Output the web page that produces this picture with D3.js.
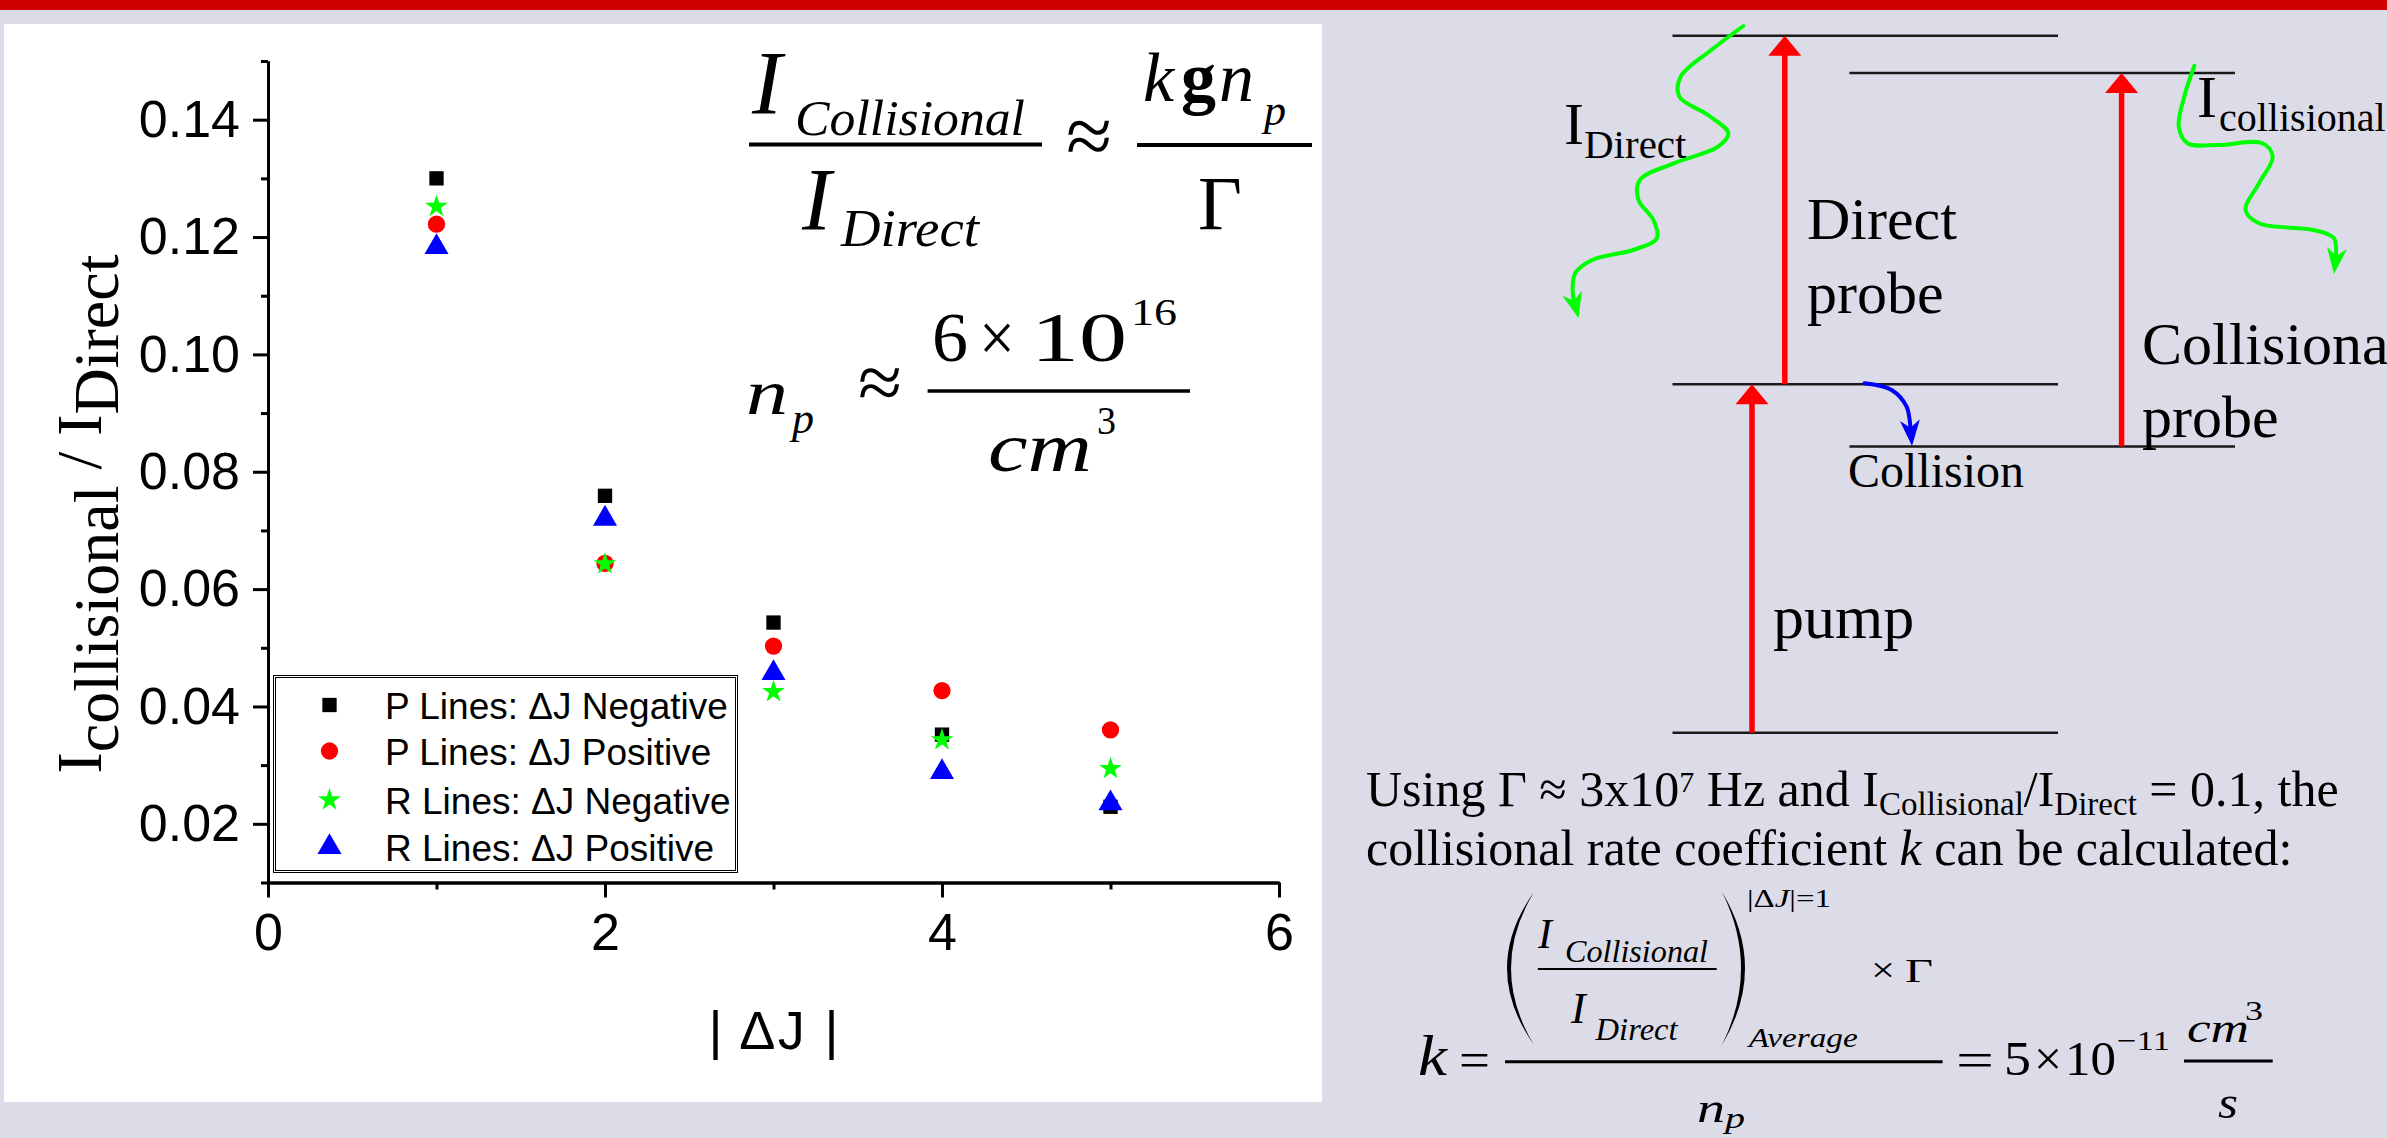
<!DOCTYPE html>
<html>
<head>
<meta charset="utf-8">
<script src="https://cdn.jsdelivr.net/npm/d3@7"></script>
<style>
  html, body { margin: 0; padding: 0; background: #DCDCE8; }
  svg { display: block; }
  text { white-space: pre; }
</style>
</head>
<body>
<svg id="fig" width="2387" height="1138"></svg>
<script>
// ---- data: collisional / direct intensity ratio vs |ΔJ| ----
const deltaJ = [1, 2, 3, 4, 5];
const pNegative = [0.1300, 0.0759, 0.0543, 0.0352, 0.0229];
const pPositive = [0.1222, 0.0644, 0.0503, 0.0427, 0.0360];
const rNegative = [0.1252, 0.0643, 0.0425, 0.0343, 0.0294];
const rPositive = [0.1183, 0.0720, 0.0457, 0.0288, 0.0235];
const seriesNames = ["P Lines: ΔJ Negative", "P Lines: ΔJ Positive",
                     "R Lines: ΔJ Negative", "R Lines: ΔJ Positive"];
const xMajorTicks = [0, 2, 4, 6];
const xMinorTicks = [1, 3, 5];
const yMajorTicks = [0.02, 0.04, 0.06, 0.08, 0.10, 0.12, 0.14];
const yMinorTicks = [0.01, 0.03, 0.05, 0.07, 0.09, 0.11, 0.13, 0.15];

const SANS = "'Liberation Sans', Arial, sans-serif";
const SERIF = "'Liberation Serif', 'Times New Roman', serif";

const series = [
  { name: seriesNames[0], values: pNegative, symbol: d3.symbolSquare,   size: 205, color: "#000000" },
  { name: seriesNames[1], values: pPositive, symbol: d3.symbolCircle,   size: 235, color: "#FF0000" },
  { name: seriesNames[2], values: rNegative, symbol: d3.symbolStar,     size: 160, color: "#00FF00" },
  { name: seriesNames[3], values: rPositive, symbol: d3.symbolTriangle, size: 250, color: "#0000FF" }
];

const svg = d3.select("#fig");

// page frame
svg.append("rect").attr("x", 0).attr("y", 0).attr("width", 2387).attr("height", 1138).attr("fill", "#DCDCE8");
svg.append("rect").attr("x", 0).attr("y", 0).attr("width", 2387).attr("height", 10).attr("fill", "#CC0000");
svg.append("rect").attr("x", 4).attr("y", 24).attr("width", 1318).attr("height", 1078).attr("fill", "#FFFFFF");

// ---- scatter plot ----
const x = d3.scaleLinear().domain([0, 6]).range([268, 1279]);
const y = d3.scaleLinear().domain([0.01, 0.15]).range([882.5, 61]);

const axisStyle = g => {
  g.select(".domain").attr("stroke", "#000").attr("stroke-width", 3);
  g.selectAll(".tick line").attr("stroke", "#000").attr("stroke-width", 3);
  g.selectAll("text").attr("fill", "#000").style("font-family", SANS).style("font-size", "52px");
};

svg.append("g").attr("transform", `translate(${x(0)},0)`)
  .call(d3.axisLeft(y).tickValues(yMinorTicks).tickSize(7).tickSizeOuter(0).tickFormat(""))
  .call(axisStyle);
svg.append("g").attr("transform", `translate(${x(0)},0)`)
  .call(d3.axisLeft(y).tickValues(yMajorTicks).tickSize(15).tickSizeOuter(0).tickPadding(13).tickFormat(d3.format(".2f")))
  .call(axisStyle);
svg.append("g").attr("transform", `translate(0,${y(0.01)})`)
  .call(d3.axisBottom(x).tickValues(xMinorTicks).tickSize(7).tickSizeOuter(0).tickFormat(""))
  .call(axisStyle);
svg.append("g").attr("transform", `translate(0,${y(0.01)})`)
  .call(d3.axisBottom(x).tickValues(xMajorTicks).tickSize(15).tickSizeOuter(0).tickPadding(16).tickFormat(d3.format("d")))
  .call(axisStyle);

// axis titles
svg.append("text")
  .attr("x", (x(0) + x(6)) / 2).attr("y", 1049)
  .attr("text-anchor", "middle")
  .attr("textLength", 130).attr("lengthAdjust", "spacing")
  .style("font-family", SANS).style("font-size", "54px")
  .text("| ΔJ |");

const yTitle = svg.append("text")
  .attr("transform", "translate(101,514) rotate(-90)")
  .attr("text-anchor", "middle")
  .style("font-family", SERIF).style("font-size", "64px");
yTitle.append("tspan").text("I");
yTitle.append("tspan").attr("dy", 17).text("collisional");
yTitle.append("tspan").attr("dy", -17).text(" / I");
yTitle.append("tspan").attr("dy", 17).text("Direct");

// markers
series.forEach(s => {
  svg.append("g").selectAll("path")
    .data(deltaJ.map((d, i) => ({ dj: d, v: s.values[i] })))
    .join("path")
    .attr("transform", d => `translate(${x(d.dj)},${y(d.v)})`)
    .attr("d", d3.symbol().type(s.symbol).size(s.size))
    .attr("fill", s.color);
});

// legend
const legend = svg.append("g");
legend.append("rect").attr("x", 273.5).attr("y", 675.5).attr("width", 464).attr("height", 197)
  .attr("fill", "#fff").attr("stroke", "#000").attr("stroke-width", 1);
legend.append("rect").attr("x", 275.5).attr("y", 677.5).attr("width", 460).attr("height", 193)
  .attr("fill", "none").attr("stroke", "#000").attr("stroke-width", 1);
const legendRows = [705, 751, 800, 847];
series.forEach((s, i) => {
  legend.append("path")
    .attr("transform", `translate(329.5,${legendRows[i]})`)
    .attr("d", d3.symbol().type(s.symbol).size(s.size))
    .attr("fill", s.color);
  legend.append("text")
    .attr("x", 385).attr("y", legendRows[i] + 13.5)
    .style("font-family", SANS).style("font-size", "37px")
    .text(s.name);
});

// ---- typeset formula helper ----
function piece(parent, str, px, py, size, opts = {}) {
  const t = parent.append("text")
    .attr("x", px).attr("y", py)
    .style("font-family", SERIF).style("font-size", size + "px")
    .style("font-style", opts.italic ? "italic" : "normal")
    .style("font-weight", opts.bold ? "bold" : "normal")
    .attr("fill", "#000")
    .text(str);
  if (opts.len) t.attr("textLength", opts.len).attr("lengthAdjust", "spacingAndGlyphs");
  return t;
}
function bar(parent, x1, x2, yy, w) {
  parent.append("line").attr("x1", x1).attr("x2", x2).attr("y1", yy).attr("y2", yy)
    .attr("stroke", "#000").attr("stroke-width", w);
}

// formulas inside the plot
const f1 = svg.append("g");
piece(f1, "I", 752, 114, 90, { italic: true });
piece(f1, "Collisional", 795, 135, 51, { italic: true, len: 230 });
bar(f1, 749, 1042, 144.6, 4);
piece(f1, "I", 802, 228.6, 88, { italic: true });
piece(f1, "Direct", 841, 246, 52, { italic: true, len: 138 });
piece(f1, "≈", 1066, 164, 84, { len: 46 });
piece(f1, "k", 1143, 101, 70, { italic: true });
piece(f1, "g", 1181, 101, 70, { bold: true });
piece(f1, "n", 1219, 101, 70, { italic: true });
piece(f1, "p", 1264, 125, 44, { italic: true });
bar(f1, 1137, 1312, 145, 4);
piece(f1, "Γ", 1198, 228.6, 76);

piece(f1, "n", 746, 414, 64, { italic: true, len: 42 });
piece(f1, "p", 792, 433, 44, { italic: true });
piece(f1, "≈", 858, 409, 79, { len: 44 });
bar(f1, 927.6, 1190, 391, 3.5);
piece(f1, "6", 932, 360.7, 69, { len: 36 });
piece(f1, "×", 979, 360.7, 69, { len: 36 });
piece(f1, "10", 1031, 360.7, 69, { len: 96 });
piece(f1, "16", 1131, 325, 37, { len: 46 });
piece(f1, "cm", 988, 471, 70, { italic: true, len: 104 });
piece(f1, "3", 1097, 434, 40, { len: 19 });

// ---- energy level diagram ----
const diag = svg.append("g");
const levels = [
  [1672.5, 2058, 35.7], [1849.4, 2235, 73], [1672.5, 2058, 384.3],
  [1849.4, 2235, 446.5], [1672.5, 2058, 732.7]
];
levels.forEach(([a, b, yy]) => {
  diag.append("line").attr("x1", a).attr("x2", b).attr("y1", yy).attr("y2", yy)
    .attr("stroke", "#1a1a1a").attr("stroke-width", 2.6);
});

function upArrow(xx, yFrom, yTip) {
  diag.append("line").attr("x1", xx).attr("x2", xx).attr("y1", yFrom).attr("y2", yTip + 18)
    .attr("stroke", "#FF0000").attr("stroke-width", 5.5);
  diag.append("path")
    .attr("d", `M${xx},${yTip} L${xx - 16.5},${yTip + 20} L${xx + 16.5},${yTip + 20} Z`)
    .attr("fill", "#FF0000");
}
upArrow(1752, 732.7, 384.3);
upArrow(1784.8, 384.3, 35.7);
upArrow(2121.6, 446.5, 73);

function wavyArrow(pts, color, width, len, half) {
  const n = pts.length;
  const tip = pts[n - 1], prev = pts[n - 2];
  const dx = tip[0] - prev[0], dy = tip[1] - prev[1];
  const L = Math.hypot(dx, dy), ux = dx / L, uy = dy / L;
  const nx = -uy, ny = ux;
  const notch = [tip[0] - ux * len * 0.7, tip[1] - uy * len * 0.7];
  const body = pts.slice(0, n - 1).concat([notch]);
  diag.append("path")
    .attr("d", d3.line().curve(d3.curveCatmullRom.alpha(0.5))(body))
    .attr("fill", "none").attr("stroke", color).attr("stroke-width", width)
    .attr("stroke-linecap", "round");
  const bx = tip[0] - ux * len, by = tip[1] - uy * len;
  diag.append("path")
    .attr("d", `M${tip[0]},${tip[1]} L${bx + nx * half},${by + ny * half} L${notch[0]},${notch[1]} L${bx - nx * half},${by - ny * half} Z`)
    .attr("fill", color);
}
const leftWave = [
  [1743.3, 26], [1711.3, 50], [1680.7, 76.7], [1679.3, 96.7], [1708, 115], [1728.3, 133.3],
  [1718, 146.7], [1673.9, 163.3], [1639.8, 180], [1638.5, 200], [1653.4, 220], [1656.8, 238.3],
  [1633, 250], [1592.2, 260], [1575.2, 273.3], [1573, 296.7], [1578.6, 318.3]
];
const rightWave = [
  [2194.4, 65.7], [2184.2, 96.7], [2178.8, 126.7], [2187.6, 143.3], [2218.2, 145], [2262.5, 143.3],
  [2272.7, 156.7], [2259, 183.3], [2245.5, 210], [2259, 223.3], [2313.5, 230], [2334, 238.3],
  [2336, 256.7], [2334, 274]
];
const collisionCurve = [
  [1864.4, 383.3], [1891.6, 390], [1906.6, 406.7], [1910.7, 430], [1912, 446]
];
wavyArrow(leftWave, "#00FF00", 4, 26, 10);
wavyArrow(rightWave, "#00FF00", 4, 26, 10);
wavyArrow(collisionCurve, "#0000FF", 4, 26, 10);

piece(diag, "I", 1564, 144, 60);
piece(diag, "Direct", 1584, 158, 41);
piece(diag, "I", 2197, 117.3, 60);
piece(diag, "collisional", 2219, 130.7, 40);
piece(diag, "Direct", 1807, 239.3, 60);
piece(diag, "probe", 1807, 313.3, 60);
piece(diag, "Collisional", 2142, 364.3, 60);
piece(diag, "probe", 2142, 436.7, 60);
piece(diag, "Collision", 1848, 486.7, 48);
piece(diag, "pump", 1773, 638.3, 62);

// ---- rate coefficient text and equation ----
const note = svg.append("g");
const l1 = note.append("text").attr("x", 1366).attr("y", 806)
  .style("font-family", SERIF).style("font-size", "50px");
l1.append("tspan").text("Using Γ ≈ 3x10");
l1.append("tspan").attr("dy", -14).style("font-size", "30px").text("7");
l1.append("tspan").attr("dy", 14).text(" Hz and I");
l1.append("tspan").attr("dy", 9).style("font-size", "33px").text("Collisional");
l1.append("tspan").attr("dy", -9).text("/I");
l1.append("tspan").attr("dy", 9).style("font-size", "33px").text("Direct");
l1.append("tspan").attr("dy", -9).text(" = 0.1, the");

const l2 = note.append("text").attr("x", 1366).attr("y", 865)
  .style("font-family", SERIF).style("font-size", "50px");
l2.append("tspan").text("collisional rate coefficient ");
l2.append("tspan").style("font-style", "italic").text("k");
l2.append("tspan").text(" can be calculated:");

piece(note, "k", 1418, 1075, 56, { italic: true, len: 29 });
piece(note, "=", 1459, 1077, 50, { len: 31 });
note.append("path").attr("d", "M1534,892 Q1480,968 1534,1045 Q1488,968 1534,892 Z").attr("fill", "#000");
note.append("path").attr("d", "M1722,892 Q1768,968 1722,1045 Q1760,968 1722,892 Z").attr("fill", "#000");
piece(note, "I", 1538, 948, 42, { italic: true });
piece(note, "Collisional", 1565, 961.7, 32, { italic: true, len: 143 });
bar(note, 1537.8, 1716.7, 969, 2);
piece(note, "I", 1571, 1023, 44, { italic: true });
piece(note, "Direct", 1595.6, 1040, 32, { italic: true, len: 82 });
const sup = piece(note, "", 1747, 907, 26, { len: 84 });
sup.append("tspan").text("|Δ");
sup.append("tspan").style("font-style", "italic").text("J");
sup.append("tspan").text("|=1");
piece(note, "Average", 1748.7, 1046.7, 28, { italic: true, len: 109 });
piece(note, "×", 1871, 981.7, 36, { len: 24 });
piece(note, "Γ", 1905, 981.7, 34, { len: 28 });
bar(note, 1505, 1942.6, 1061.7, 3);
piece(note, "n", 1697, 1121.7, 42, { italic: true, len: 28 });
piece(note, "p", 1725, 1128, 30, { italic: true, len: 20 });
piece(note, "=", 1956, 1077, 50, { len: 38 });
piece(note, "5", 2004, 1075, 49, { len: 27 });
piece(note, "×", 2034, 1075, 49, { len: 28 });
piece(note, "10", 2065, 1075, 49, { len: 51 });
piece(note, "−11", 2117, 1050, 28, { len: 53 });
piece(note, "cm", 2187, 1042, 40, { italic: true, len: 62 });
piece(note, "3", 2245, 1020, 28, { len: 18 });
bar(note, 2184, 2272.7, 1061, 3);
piece(note, "s", 2218, 1118.3, 46, { italic: true, len: 20 });
</script>
</body>
</html>
